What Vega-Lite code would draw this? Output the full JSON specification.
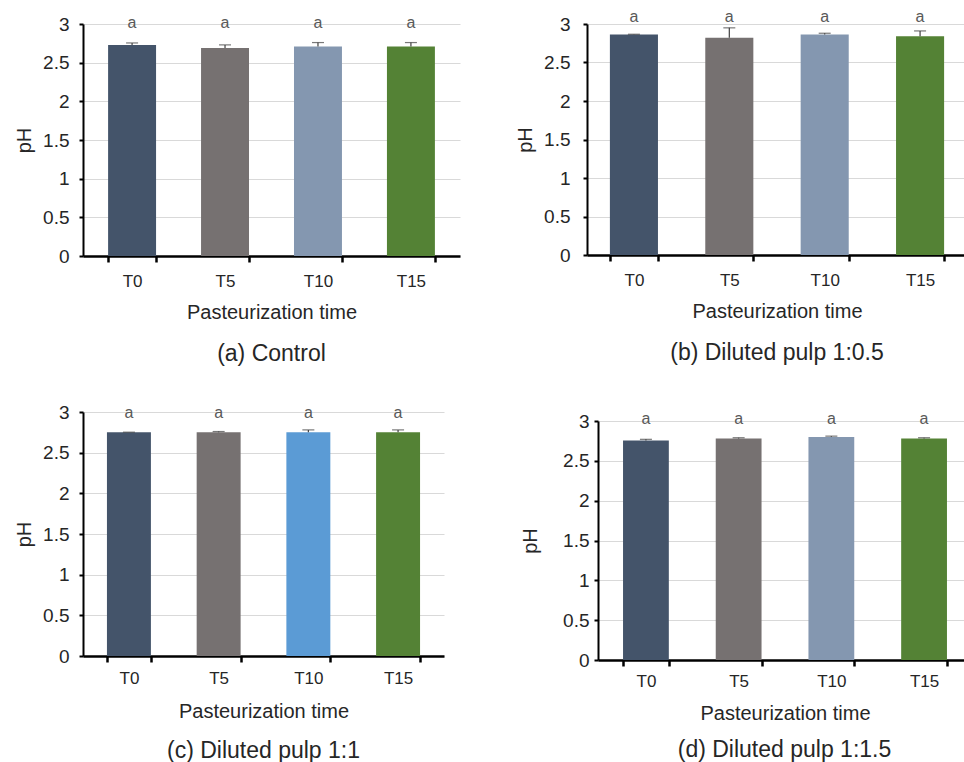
{
  "$schema": "https://vega.github.io/schema/vega-lite/v6.json",
  "padding": {"left": 14, "top": 9, "right": 0, "bottom": 0},
  "background": "white",
  "datasets": {
    "ph": [
      {"panel": "a", "time": "T0", "ph": 2.73, "hi": 2.755, "letter": "a"},
      {"panel": "a", "time": "T5", "ph": 2.69, "hi": 2.73, "letter": "a"},
      {"panel": "a", "time": "T10", "ph": 2.71, "hi": 2.76, "letter": "a"},
      {"panel": "a", "time": "T15", "ph": 2.71, "hi": 2.76, "letter": "a"},
      {"panel": "b", "time": "T0", "ph": 2.865, "hi": 2.867, "letter": "a"},
      {"panel": "b", "time": "T5", "ph": 2.82, "hi": 2.95, "letter": "a"},
      {"panel": "b", "time": "T10", "ph": 2.865, "hi": 2.88, "letter": "a"},
      {"panel": "b", "time": "T15", "ph": 2.84, "hi": 2.91, "letter": "a"},
      {"panel": "c", "time": "T0", "ph": 2.75, "hi": 2.752, "letter": "a"},
      {"panel": "c", "time": "T5", "ph": 2.75, "hi": 2.76, "letter": "a"},
      {"panel": "c", "time": "T10", "ph": 2.75, "hi": 2.78, "letter": "a"},
      {"panel": "c", "time": "T15", "ph": 2.75, "hi": 2.78, "letter": "a"},
      {"panel": "d", "time": "T0", "ph": 2.755, "hi": 2.77, "letter": "a"},
      {"panel": "d", "time": "T5", "ph": 2.78, "hi": 2.79, "letter": "a"},
      {"panel": "d", "time": "T10", "ph": 2.80, "hi": 2.81, "letter": "a"},
      {"panel": "d", "time": "T15", "ph": 2.78, "hi": 2.79, "letter": "a"}
    ]
  },
  "hconcat": [
    {
      "vconcat": [
        {
          "data": {"name": "ph"},
          "transform": [{"filter": "datum.panel == 'a'"}],
          "width": 377, "height": 232,
          "title": {"text": "(a) Control", "orient": "bottom", "offset": 21},
          "encoding": {
            "x": {"field": "time", "type": "nominal", "sort": ["T0", "T5", "T10", "T15"], "scale": {"paddingInner": 0.484, "paddingOuter": 0.27}, "title": "Pasteurization time", "axis": {"titlePadding": 13}}
          },
          "layer": [
            {"mark": {"type": "bar"}, "encoding": {"y": {"field": "ph", "type": "quantitative", "scale": {"domain": [0, 3]}, "title": "pH"}, "color": {"field": "time", "type": "nominal", "scale": {"domain": ["T0", "T5", "T10", "T15"], "range": ["#44546A", "#767171", "#8497B0", "#548235"]}, "legend": null}}},
            {"mark": {"type": "rule", "color": "#404040", "strokeWidth": 1.2}, "encoding": {"y": {"field": "ph", "type": "quantitative"}, "y2": {"field": "hi"}}},
            {"mark": {"type": "tick", "color": "#404040", "size": 12, "thickness": 1.2}, "encoding": {"y": {"field": "hi", "type": "quantitative"}}},
            {"mark": {"type": "text", "fontSize": 16, "color": "#595959", "baseline": "middle", "dy": -1}, "encoding": {"y": {"datum": 3}, "text": {"field": "letter"}}}
          ]
        },
        {
          "data": {"name": "ph"},
          "transform": [{"filter": "datum.panel == 'c'"}],
          "width": 361, "height": 244,
          "title": {"text": "(c) Diluted pulp 1:1", "orient": "bottom", "offset": 19},
          "encoding": {
            "x": {"field": "time", "type": "nominal", "sort": ["T0", "T5", "T10", "T15"], "scale": {"paddingInner": 0.51, "paddingOuter": 0.267}, "title": "Pasteurization time", "axis": {"labelPadding": 8, "titlePadding": 15}}
          },
          "layer": [
            {"mark": {"type": "bar"}, "encoding": {"y": {"field": "ph", "type": "quantitative", "scale": {"domain": [0, 3]}, "title": "pH"}, "color": {"field": "time", "type": "nominal", "scale": {"domain": ["T0", "T5", "T10", "T15"], "range": ["#44546A", "#767171", "#5B9BD5", "#548235"]}, "legend": null}}},
            {"mark": {"type": "rule", "color": "#404040", "strokeWidth": 1.2}, "encoding": {"y": {"field": "ph", "type": "quantitative"}, "y2": {"field": "hi"}}},
            {"mark": {"type": "tick", "color": "#404040", "size": 12, "thickness": 1.2}, "encoding": {"y": {"field": "hi", "type": "quantitative"}}},
            {"mark": {"type": "text", "fontSize": 16, "color": "#595959", "baseline": "middle", "dy": 1}, "encoding": {"y": {"datum": 3}, "text": {"field": "letter"}}}
          ]
        }
      ],
      "spacing": 37,
      "resolve": {"scale": {"color": "independent"}}
    },
    {
      "concat": [
        {
          "data": {"name": "ph"},
          "transform": [{"filter": "datum.panel == 'b'"}],
          "width": 380, "height": 231,
          "title": {"text": "(b) Diluted pulp 1:0.5", "orient": "bottom", "offset": 21},
          "encoding": {
            "x": {"field": "time", "type": "nominal", "sort": ["T0", "T5", "T10", "T15"], "scale": {"paddingInner": 0.496, "paddingOuter": 0.24}, "title": "Pasteurization time", "axis": {"titlePadding": 13}}
          },
          "layer": [
            {"mark": {"type": "bar"}, "encoding": {"y": {"field": "ph", "type": "quantitative", "scale": {"domain": [0, 3]}, "title": "pH", "axis": {"labelPadding": 13}}, "color": {"field": "time", "type": "nominal", "scale": {"domain": ["T0", "T5", "T10", "T15"], "range": ["#44546A", "#767171", "#8497B0", "#548235"]}, "legend": null}}},
            {"mark": {"type": "rule", "color": "#404040", "strokeWidth": 1.2}, "encoding": {"y": {"field": "ph", "type": "quantitative"}, "y2": {"field": "hi"}}},
            {"mark": {"type": "tick", "color": "#404040", "size": 12, "thickness": 1.2}, "encoding": {"y": {"field": "hi", "type": "quantitative"}}},
            {"mark": {"type": "text", "fontSize": 16, "color": "#595959", "baseline": "middle", "dy": -7}, "encoding": {"y": {"datum": 3}, "text": {"field": "letter"}}}
          ]
        },
        {
          "data": {"name": "ph"},
          "transform": [{"filter": "datum.panel == 'd'"}],
          "width": 385, "height": 239,
          "title": {"text": "(d) Diluted pulp 1:1.5", "orient": "bottom", "offset": 16, "dx": 5},
          "encoding": {
            "x": {"field": "time", "type": "nominal", "sort": ["T0", "T5", "T10", "T15"], "scale": {"range": [11, 385], "paddingInner": 0.506, "paddingOuter": 0.27}, "title": "Pasteurization time", "axis": {"labelPadding": 7, "titlePadding": 14}}
          },
          "layer": [
            {"mark": {"type": "bar"}, "encoding": {"y": {"field": "ph", "type": "quantitative", "scale": {"domain": [0, 3]}, "title": "pH", "axis": {"labelPadding": 5, "minExtent": 50, "offset": -11}}, "color": {"field": "time", "type": "nominal", "scale": {"domain": ["T0", "T5", "T10", "T15"], "range": ["#44546A", "#767171", "#8497B0", "#548235"]}, "legend": null}}},
            {"mark": {"type": "rule", "color": "#404040", "strokeWidth": 1.2}, "encoding": {"y": {"field": "ph", "type": "quantitative"}, "y2": {"field": "hi"}}},
            {"mark": {"type": "tick", "color": "#404040", "size": 12, "thickness": 1.2}, "encoding": {"y": {"field": "hi", "type": "quantitative"}}},
            {"mark": {"type": "text", "fontSize": 16, "color": "#595959", "baseline": "middle", "dy": -2}, "encoding": {"y": {"datum": 3}, "text": {"field": "letter"}}}
          ]
        }
      ],
      "columns": 1,
      "align": "none",
      "spacing": 46,
      "resolve": {"scale": {"color": "independent"}}
    }
  ],
  "spacing": 55,
  "resolve": {"scale": {"color": "independent"}},
  "config": {
    "font": "Liberation Sans",
    "view": {"stroke": null},
    "title": {"fontSize": 23, "fontWeight": "normal", "color": "#262626", "font": "Liberation Sans"},
    "axisY": {"values": [0, 0.5, 1, 1.5, 2, 2.5, 3], "format": "~g", "labelFontSize": 19, "labelColor": "#262626", "labelPadding": 10, "tickSize": 4, "tickColor": "black", "tickWidth": 2, "domainColor": "black", "domainWidth": 2, "gridColor": "#d9d9d9", "gridWidth": 1, "titleFontSize": 20, "titleFontWeight": "normal", "titleColor": "#262626", "titlePadding": 8},
    "axisX": {"labelAngle": 0, "labelFontSize": 17, "labelColor": "#262626", "labelPadding": 11, "tickBand": "extent", "tickSize": 6, "tickColor": "black", "tickWidth": 2.5, "domainColor": "black", "domainWidth": 2.5, "titleFontSize": 20, "titleFontWeight": "normal", "titleColor": "#262626", "titlePadding": 12, "grid": false}
  }
}
